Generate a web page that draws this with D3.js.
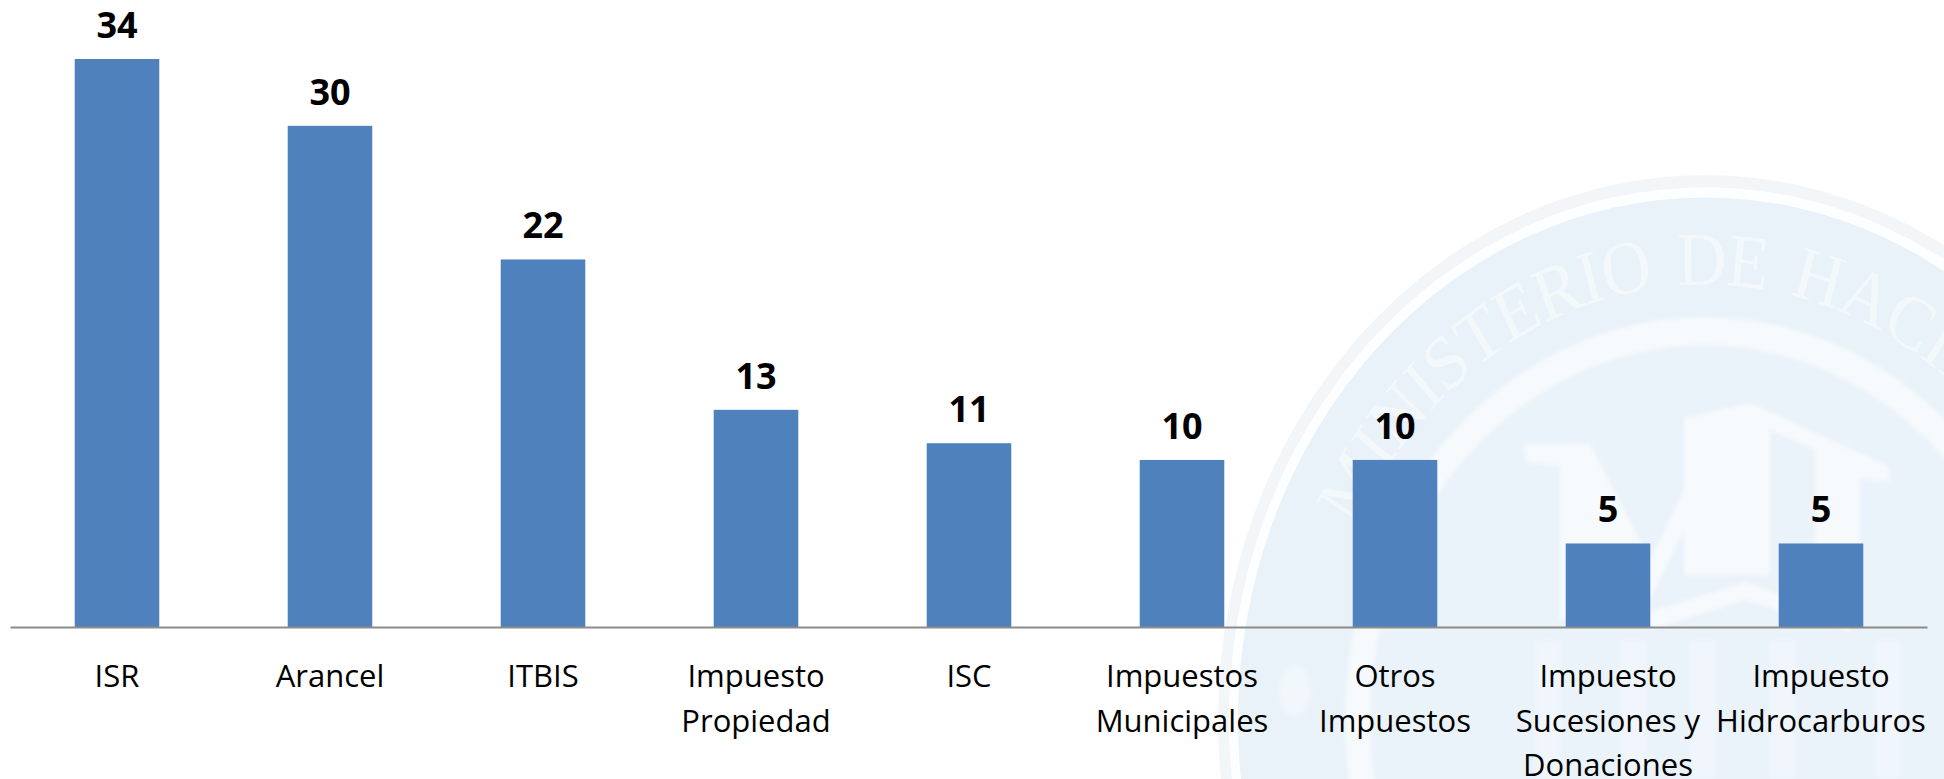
<!DOCTYPE html>
<html lang="en">
<head>
<meta charset="UTF-8">
<title>Impuestos</title>
<script src="https://cdnjs.cloudflare.com/ajax/libs/d3/7.8.5/d3.min.js"></script>
<style>
  html, body { margin: 0; padding: 0; background: #fff; }
  svg { display: block; font-family: "Open Sans", "Noto Sans", sans-serif; }
</style>
</head>
<body>
<script>
const categories = [
  ["ISR"], ["Arancel"], ["ITBIS"], ["Impuesto", "Propiedad"], ["ISC"],
  ["Impuestos", "Municipales"], ["Otros", "Impuestos"],
  ["Impuesto", "Sucesiones y", "Donaciones"], ["Impuesto", "Hidrocarburos"]
];
const values = [34, 30, 22, 13, 11, 10, 10, 5, 5];
const sealText = "MINISTERIO DE HACIENDA";

const width = 1944, height = 779;
const svg = d3.select("body").append("svg").attr("width", width).attr("height", height);

svg.append("defs").append("filter").attr("id", "soft")
  .append("feGaussianBlur").attr("stdDeviation", 2);

// faint seal behind the chart, it is an ellipse because the logo was stretched
const tint = "#e9f2f9", pale = "#f6fafc";
const seal = svg.append("g").attr("transform", "translate(1705,720) scale(1,1.119)");
seal.append("circle").attr("r", 487).attr("fill", "#f3f6f9");
seal.append("circle").attr("r", 476).attr("fill", "#fdfeff");
seal.append("circle").attr("r", 467).attr("fill", tint);
seal.append("circle").attr("r", 360).attr("fill", pale).attr("filter", "url(#soft)");
seal.append("circle").attr("r", 335).attr("fill", "#eaf2fa").attr("filter", "url(#soft)");

const arcR = 389, a0 = -64 * Math.PI / 180, a1 = 64 * Math.PI / 180;
seal.append("path").attr("id", "sealArc").attr("fill", "none")
  .attr("d", `M${arcR * Math.sin(a0)},${-arcR * Math.cos(a0)}A${arcR},${arcR} 0 0 1 ${arcR * Math.sin(a1)},${-arcR * Math.cos(a1)}`);
seal.append("text")
  .attr("font-family", "Liberation Serif").attr("font-size", 68).attr("fill", "#f3f8fb")
  .attr("letter-spacing", -1).attr("word-spacing", 8).style("filter", "blur(0.7px)")
  .append("textPath").attr("href", "#sealArc").text(sealText);

// MH house shape and the columns under it
const logoShapes = [
  [[1523, 444], [1590, 444], [1650, 560], [1684, 490], [1684, 418], [1750, 403], [1888, 466], [1890, 482], [1860, 478], [1860, 610], [1815, 600], [1815, 450], [1770, 430], [1770, 575], [1684, 575], [1684, 530], [1640, 620], [1600, 560], [1600, 620], [1560, 620], [1560, 466], [1526, 462]],
  [[1650, 612], [1745, 582], [1850, 618], [1850, 632], [1745, 600], [1650, 630]]
];
const columnX = [1535, 1620, 1690, 1770, 1875];
const logo = svg.append("g").attr("filter", "url(#soft)");
logo.selectAll("path").data(logoShapes).join("path")
  .attr("d", d => d3.line()(d) + "Z").attr("fill", pale);
logo.selectAll("rect").data(columnX).join("rect")
  .attr("x", d => d).attr("y", 640).attr("width", 26).attr("height", 139).attr("fill", "#f0f6fb");
logo.append("ellipse").attr("cx", 1295).attr("cy", 691).attr("rx", 16).attr("ry", 26).attr("fill", "#f1f7fb");

const x = d3.scaleBand().domain(d3.range(categories.length)).range([10.5, 1927.5]).paddingInner(0.603).paddingOuter(0.3015);
const y = d3.scaleLinear().domain([0, 34]).range([627, 59]);

svg.append("g").selectAll("rect").data(values).join("rect")
  .attr("x", (d, i) => x(i)).attr("y", d => y(d))
  .attr("width", x.bandwidth()).attr("height", d => y(0) - y(d))
  .attr("fill", "#4f81bd");

svg.append("line").attr("x1", 10.5).attr("x2", 1927.5).attr("y1", 627.5).attr("y2", 627.5)
  .attr("stroke", "#8b8b8b").attr("stroke-width", 2);

svg.append("g").selectAll("text").data(values).join("text")
  .attr("x", (d, i) => x(i) + x.bandwidth() / 2).attr("y", d => y(d) - 21)
  .attr("text-anchor", "middle").attr("font-size", 36).attr("font-weight", 700).attr("fill", "#000")
  .text(d => d);

const labels = svg.append("g").selectAll("text").data(categories).join("text")
  .attr("text-anchor", "middle").attr("font-size", 31).attr("fill", "#000")
  .attr("transform", (d, i) => `translate(${x(i) + x.bandwidth() / 2},0)`);
labels.selectAll("tspan").data(d => d).join("tspan")
  .attr("x", 0).attr("y", (d, i) => 687 + i * 44.5).text(d => d);
</script>
</body>
</html>
